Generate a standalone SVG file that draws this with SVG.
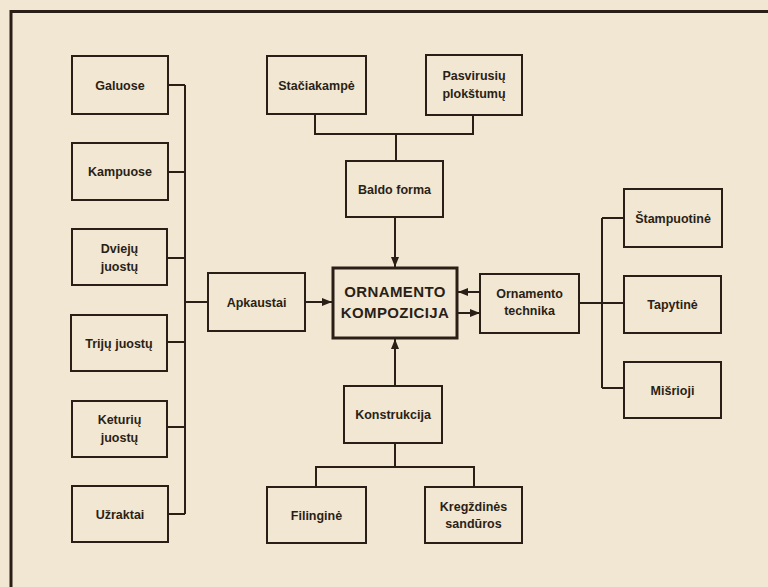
<svg xmlns="http://www.w3.org/2000/svg" width="768" height="587" viewBox="0 0 768 587">
<defs>
<style>
.bg{fill:#f2e7d3}
.frame{fill:none;stroke:#2a1f16;stroke-width:3}
.box{fill:none;stroke:#2a1f16;stroke-width:2}
.main{fill:none;stroke:#2a1f16;stroke-width:3}
.ln{fill:none;stroke:#2a1f16;stroke-width:2}
text{font-family:"Liberation Sans",Arial,sans-serif;font-weight:bold;font-size:12.5px;fill:#2a1f16;text-anchor:middle}
.big{font-size:15px;letter-spacing:0.4px}
</style>
<marker id="arr" markerUnits="userSpaceOnUse" markerWidth="10" markerHeight="8" viewBox="0 0 10 8" refX="10" refY="4" orient="auto">
<path d="M0,0 L10,4 L0,8 Z" fill="#2a1f16"/>
</marker>
</defs>
<rect class="bg" x="0" y="0" width="768" height="587"/>
<path class="frame" d="M11,587 V11.5 H768"/>

<g id="connectors">
<path class="ln" d="M185,85 V514"/>
<path class="ln" d="M168,85 H185 M168,172 H185 M167,258 H185 M167,342 H185 M167,427 H185 M167,514 H185 M185,302 H208"/>
<path class="ln" d="M305,302 H332" marker-end="url(#arr)"/>
<path class="ln" d="M315,114 V134 H473 V115 M396,134 V161"/>
<path class="ln" d="M395,217 V267" marker-end="url(#arr)"/>
<path class="ln" d="M395,386 V339" marker-end="url(#arr)"/>
<path class="ln" d="M395,443 V467 M316,487 V467 H474 V487"/>
<path class="ln" d="M480,292 H458" marker-end="url(#arr)"/>
<path class="ln" d="M458,313 H480" marker-end="url(#arr)"/>
<path class="ln" d="M579,303 H624 M602,218 V388 M602,218 H624 M602,388 H624"/>
</g>

<g id="galuose"><rect class="box" x="72" y="56" width="96" height="58"/><text x="120" y="89.5">Galuose</text></g>
<g id="kampuose"><rect class="box" x="72" y="143" width="96" height="57"/><text x="120" y="176">Kampuose</text></g>
<g id="dvieju"><rect class="box" x="72" y="229" width="95" height="56"/><text x="119.5" y="253">Dviejų</text><text x="119.5" y="271">juostų</text></g>
<g id="triju"><rect class="box" x="71" y="315" width="96" height="56"/><text x="119" y="347.5">Trijų juostų</text></g>
<g id="keturiu"><rect class="box" x="72" y="401" width="95" height="56"/><text x="119.5" y="424">Keturių</text><text x="119.5" y="442">juostų</text></g>
<g id="uzraktai"><rect class="box" x="72" y="486" width="96" height="56"/><text x="120" y="518.5">Užraktai</text></g>
<g id="apkaustai"><rect class="box" x="208" y="273" width="97" height="58"/><text x="256.5" y="306.5">Apkaustai</text></g>
<g id="staciakampe"><rect class="box" x="267" y="56" width="99" height="58"/><text x="316.5" y="89.5">Stačiakampė</text></g>
<g id="pasvirusiu"><rect class="box" x="426" y="55" width="96" height="60"/><text x="474" y="80">Pasvirusių</text><text x="474" y="98">plokštumų</text></g>
<g id="baldo-forma"><rect class="box" x="346" y="161" width="97" height="56"/><text x="394.5" y="193.5">Baldo forma</text></g>
<g id="ornamento-kompozicija"><rect class="main" x="333" y="268" width="124" height="70"/><text class="big" x="395" y="296.5">ORNAMENTO</text><text class="big" x="395" y="317.5">KOMPOZICIJA</text></g>
<g id="ornamento-technika"><rect class="box" x="480" y="274" width="99" height="59"/><text x="529.5" y="297.5">Ornamento</text><text x="529.5" y="314.5">technika</text></g>
<g id="stampuotine"><rect class="box" x="624" y="189" width="98" height="58"/><text x="673" y="222.5">Štampuotinė</text></g>
<g id="tapytine"><rect class="box" x="624" y="276" width="97" height="57"/><text x="672.5" y="309">Tapytinė</text></g>
<g id="misrioji"><rect class="box" x="624" y="362" width="97" height="56"/><text x="672.5" y="394.5">Mišrioji</text></g>
<g id="konstrukcija"><rect class="box" x="344" y="386" width="98" height="57"/><text x="393" y="419">Konstrukcija</text></g>
<g id="filingine"><rect class="box" x="267" y="487" width="99" height="56"/><text x="316.5" y="519.5">Filinginė</text></g>
<g id="kregzdines"><rect class="box" x="425" y="487" width="97" height="56"/><text x="473.5" y="511">Kregždinės</text><text x="473.5" y="528">sandūros</text></g>
</svg>
